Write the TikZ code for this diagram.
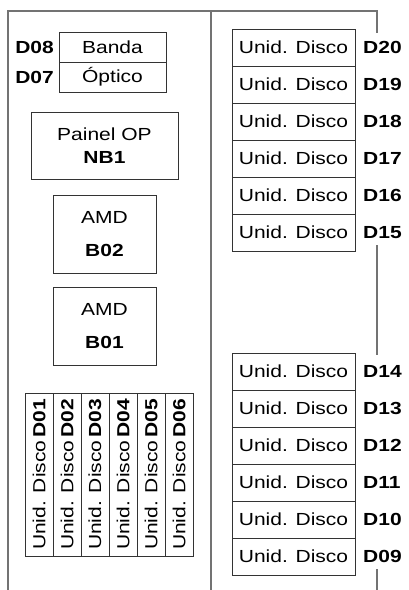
\documentclass[tikz,border=0pt]{standalone}
\usepackage{fontspec}
\setmainfont{Liberation Sans}[FakeStretch=1.2]
\usetikzlibrary{positioning}

\begin{document}
\begin{tikzpicture}[
  x=1pt, y=-1pt,
  frame/.style={draw=black!55, line width=1.3pt},
  box/.style={draw=black!80, line width=0.8pt, outer sep=0pt, inner sep=0pt,
    align=center, font=\fontsize{17.5}{23}\selectfont},
  disk/.style={box, minimum width=123pt, minimum height=37pt},
  tag/.style={inner sep=0pt, font=\fontsize{17.5}{20}\selectfont\bfseries}
]
\useasboundingbox (0,0) rectangle (409,590);

% cabinet outline
\draw[frame] (8,590) -- (8,11) -- (377,11) -- (377,33);
\draw[frame] (211,11) -- (211,590);
\draw[frame] (377,245) -- (377,355);
\draw[frame] (377,569) -- (377,590);

% left side
\node[box, minimum width=107pt, minimum height=30pt] (d08) at (112.5,47) {Banda};
\node[box, minimum width=107pt, minimum height=30pt, below=0pt of d08] (d07) {Óptico};
\node[tag, left=5pt of d08] {D08};
\node[tag, left=5pt of d07] {D07};

\node[box, minimum width=147pt, minimum height=67pt] (nb1) at (104.5,146) {Painel OP\\\textbf{NB1}};
\node[box, minimum width=103pt, minimum height=78pt] (b02) at (104.5,234) {AMD\\[10pt]\textbf{B02}};
\node[box, minimum width=103pt, minimum height=78pt] (b01) at (104.5,326.5) {AMD\\[10pt]\textbf{B01}};

\foreach \i in {1,...,6}
  \node[box, rotate=90, minimum width=163pt, minimum height=28pt] (d0\i) at ({25+28*\i-14},474.5) {Unid. Disco\,\textbf{D0\i}};

% right side, upper bay
\node[disk] (d20) at (293.5,47.5) {Unid. Disco};
\foreach \a/\b in {20/19,19/18,18/17,17/16,16/15}
  \node[disk, below=0pt of d\a] (d\b) {Unid. Disco};

% right side, lower bay
\node[disk] (d14) at (293.5,371.5) {Unid. Disco};
\foreach \a/\b in {14/13,13/12,12/11,11/10,10/09}
  \node[disk, below=0pt of d\a] (d\b) {Unid. Disco};

\foreach \n in {20,19,18,17,16,15,14,13,12,11,10,09}
  \node[tag, right=8pt of d\n] {D\n};
\end{tikzpicture}
\end{document}
